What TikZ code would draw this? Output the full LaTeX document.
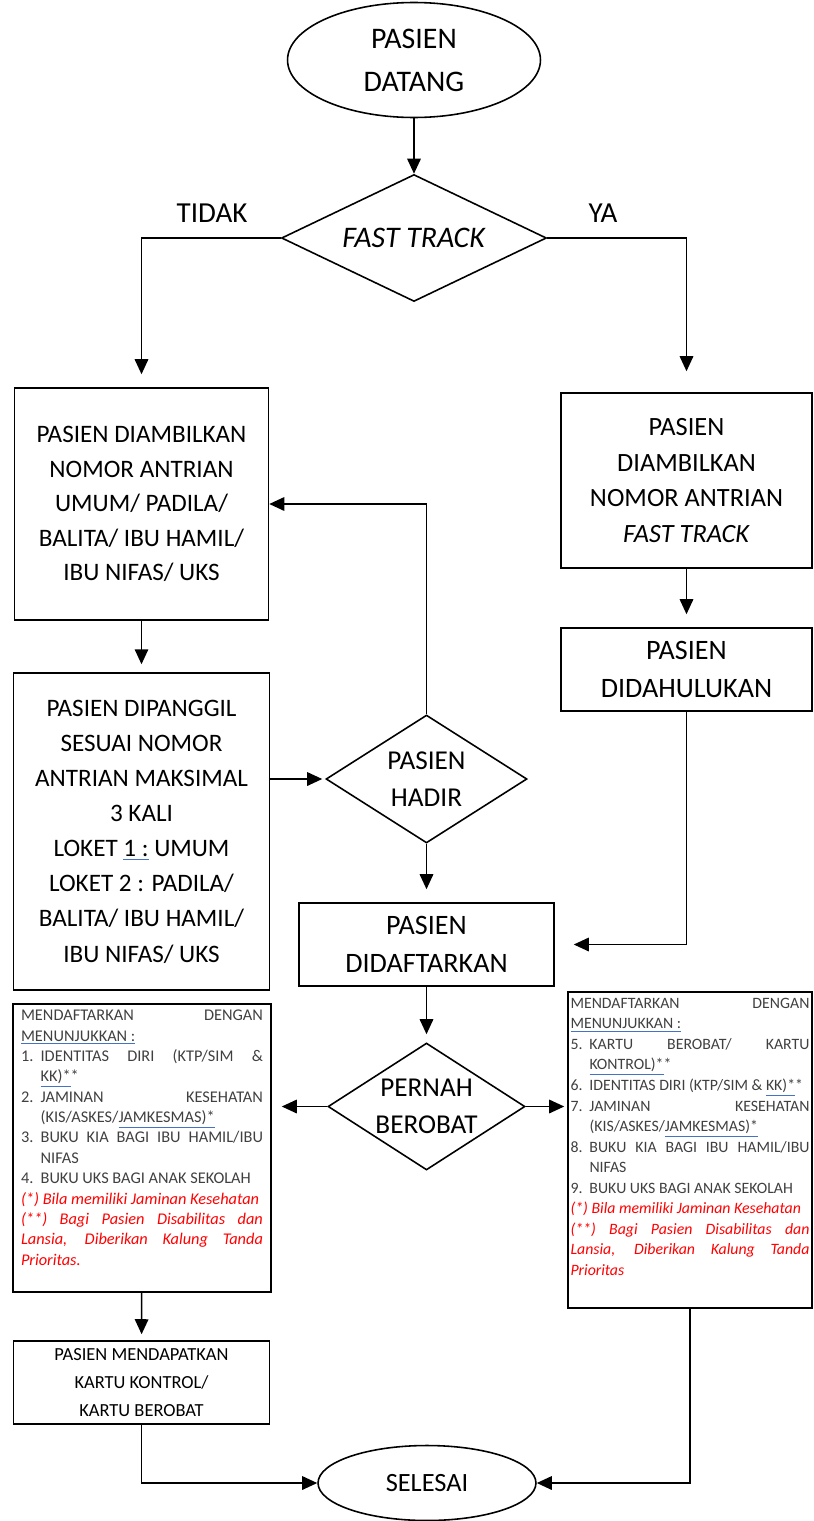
\documentclass[tikz,border=0pt]{standalone}
\usepackage{fontspec}
\setmainfont{Carlito}
\usetikzlibrary{positioning,arrows.meta,shapes.geometric}
\definecolor{infogray}{HTML}{404040}
\definecolor{notered}{HTML}{FF0000}
\definecolor{markblue}{HTML}{4472C4}
\newcommand{\spellmark}[2][infogray]{\textcolor{markblue}{\underline{\textcolor{#1}{#2}}}}
\newcommand{\itemline}[2]{\par\noindent\hangindent=1.2em\hangafter=1\makebox[1.2em][l]{#1}#2}
\tikzset{
  flowarrow/.style={-{Triangle[length=3mm,width=2.7mm]}, line width=0.9pt},
  terminal/.style={draw, ellipse, line width=0.9pt, inner sep=0pt, align=center},
  decision/.style={draw, diamond, line width=0.9pt, inner sep=0pt, aspect=2},
  dectext/.style={inner sep=0pt, align=center, font=\fontsize{15.5}{21}\selectfont},
  procbox/.style={draw, rectangle, line width=0.9pt, inner sep=0pt, align=center},
  infobox/.style={draw, rectangle, line width=0.9pt, inner xsep=0.16cm, inner ysep=0.12cm, text=infogray, font=\fontsize{9.3}{11.6}\selectfont},
  relabel/.style={inner sep=1pt, font=\fontsize{16.5}{20}\selectfont}
}

\begin{document}
\begin{tikzpicture}[x=0.02cm, y=-0.02cm]
  \useasboundingbox (0,0) rectangle (814,1521);
  % alur utama
  \node[terminal, minimum width=5.06cm, minimum height=2.3cm, font=\fontsize{17}{24.4}\selectfont] (datang) at (414,60) {PASIEN\\DATANG};
  \node[decision, minimum width=5.3cm, minimum height=2.54cm] (fast) at (414,238) {};
  \node[dectext, font=\fontsize{17}{21}\selectfont] (fasttext) at (fast) {\textit{FAST TRACK}};
  \node[relabel] (tidak) at (212,213) {TIDAK};
  \node[relabel] (ya) at (603,213) {YA};
  \node[procbox, minimum width=5.08cm, minimum height=4.64cm, font=\fontsize{14.3}{19.6}\selectfont] (ambil) at (141.5,504) {PASIEN DIAMBILKAN\\NOMOR ANTRIAN\\UMUM/ PADILA/\\BALITA/ IBU HAMIL/\\IBU NIFAS/ UKS};
  \node[procbox, minimum width=5.02cm, minimum height=3.5cm, font=\fontsize{15}{20.4}\selectfont] (ambilft) at (686.5,480.5) {PASIEN\\DIAMBILKAN\\NOMOR ANTRIAN\\\textit{FAST TRACK}};
  \node[procbox, minimum width=5.02cm, minimum height=1.66cm, font=\fontsize{16}{21.6}\selectfont] (dahulu) at (686.5,669.5) {PASIEN\\DIDAHULUKAN};
  \node[procbox, minimum width=5.12cm, minimum height=6.34cm, font=\fontsize{14.3}{20}\selectfont] (panggil) at (141.5,831.5) {PASIEN DIPANGGIL\\SESUAI NOMOR\\ANTRIAN MAKSIMAL\\3 KALI\\LOKET \spellmark[black]{1 :} UMUM\\LOKET 2 : PADILA/\\BALITA/ IBU HAMIL/\\IBU NIFAS/ UKS};
  \node[decision, minimum width=4.02cm, minimum height=2.56cm] (hadir) at (426.5,779) {};
  \node[dectext] (hadirtext) at (hadir) {PASIEN\\HADIR};
  \node[procbox, minimum width=5.1cm, minimum height=1.66cm, font=\fontsize{16}{21.6}\selectfont] (daftar) at (426.5,944.5) {PASIEN\\DIDAFTARKAN};
  \node[decision, minimum width=3.94cm, minimum height=2.54cm] (berobat) at (426.5,1106.5) {};
  \node[dectext] (berobattext) at (berobat) {PERNAH\\BEROBAT};
  % syarat pendaftaran
  \node[infobox] (syaratbaru) at (142,1148) {\parbox[c][5.52cm][t]{4.84cm}{\hyphenpenalty=10000
    MENDAFTARKAN DENGAN\linebreak \spellmark{MENUNJUKKAN :}
    \itemline{1.}{IDENTITAS DIRI (KTP/SIM \&\linebreak \spellmark{KK)*}*}
    \itemline{2.}{JAMINAN KESEHATAN\linebreak (KIS/ASKES/\spellmark{JAMKESMAS)*}}
    \itemline{3.}{BUKU KIA BAGI IBU HAMIL/IBU\linebreak NIFAS}
    \itemline{4.}{BUKU UKS BAGI ANAK SEKOLAH}
    \par\noindent{\color{notered}\itshape (*) Bila memiliki Jaminan Kesehatan\par
    (**) Bagi Pasien Disabilitas dan\linebreak Lansia, Diberikan Kalung Tanda\linebreak Prioritas.}}};
  \node[infobox, inner xsep=0.05cm, font=\fontsize{9}{11.7}\selectfont] (syaratlama) at (690,1150) {\parbox[c][6.08cm][t]{4.78cm}{\hyphenpenalty=10000
    MENDAFTARKAN DENGAN\linebreak \spellmark{MENUNJUKKAN :}
    \itemline{5.}{KARTU BEROBAT/ KARTU\linebreak \spellmark{KONTROL)*}*}
    \itemline{6.}{IDENTITAS DIRI (KTP/SIM \& \spellmark{KK)*}*}
    \itemline{7.}{JAMINAN KESEHATAN\linebreak (KIS/ASKES/\spellmark{JAMKESMAS)*}}
    \itemline{8.}{BUKU KIA BAGI IBU HAMIL/IBU\linebreak NIFAS}
    \itemline{9.}{BUKU UKS BAGI ANAK SEKOLAH}
    \par\noindent{\color{notered}\itshape (*) Bila memiliki Jaminan Kesehatan\par
    (**) Bagi Pasien Disabilitas dan\linebreak Lansia, Diberikan Kalung Tanda\linebreak Prioritas}}};
  \node[procbox, minimum width=5.12cm, minimum height=1.66cm, font=\fontsize{10.5}{16}\selectfont] (kartu) at (141.5,1382.5) {PASIEN MENDAPATKAN\\KARTU KONTROL/\\KARTU BEROBAT};
  \node[terminal, minimum width=4.36cm, minimum height=1.5cm, font=\fontsize{15}{18}\selectfont] (selesai) at (427,1483) {SELESAI};
  % panah
  \draw[flowarrow] (datang) -- (fast);
  \draw[flowarrow, shorten >=0.26cm] (fast.west) -| (ambil.north);
  \draw[flowarrow, shorten >=0.42cm] (fast.east) -| (ambilft.north);
  \draw[flowarrow, shorten >=0.26cm] (ambilft) -- (dahulu);
  \draw[flowarrow, shorten >=0.16cm] (ambil) -- (panggil);
  \draw[flowarrow, shorten >=0.06cm] (panggil.east |- hadir.west) -- (hadir.west);
  \draw[flowarrow] (hadir.north) |- (ambil.east);
  \draw[flowarrow, shorten >=0.26cm] (hadir) -- (daftar);
  \draw[flowarrow, shorten >=0.38cm] (dahulu.south) |- (daftar.east);
  \draw[flowarrow, shorten >=0.16cm] (daftar) -- (berobat);
  \draw[flowarrow, shorten >=0.2cm] (berobat.west) -- (berobat.west -| syaratbaru.east);
  \draw[flowarrow, shorten >=0.06cm] (berobat.east) -- (berobat.east -| syaratlama.west);
  \draw[flowarrow, shorten >=0.12cm] (syaratbaru) -- (kartu);
  \draw[flowarrow] (kartu.south) |- (selesai.west);
  \draw[flowarrow] (syaratlama.south) |- (selesai.east);
\end{tikzpicture}
\end{document}
